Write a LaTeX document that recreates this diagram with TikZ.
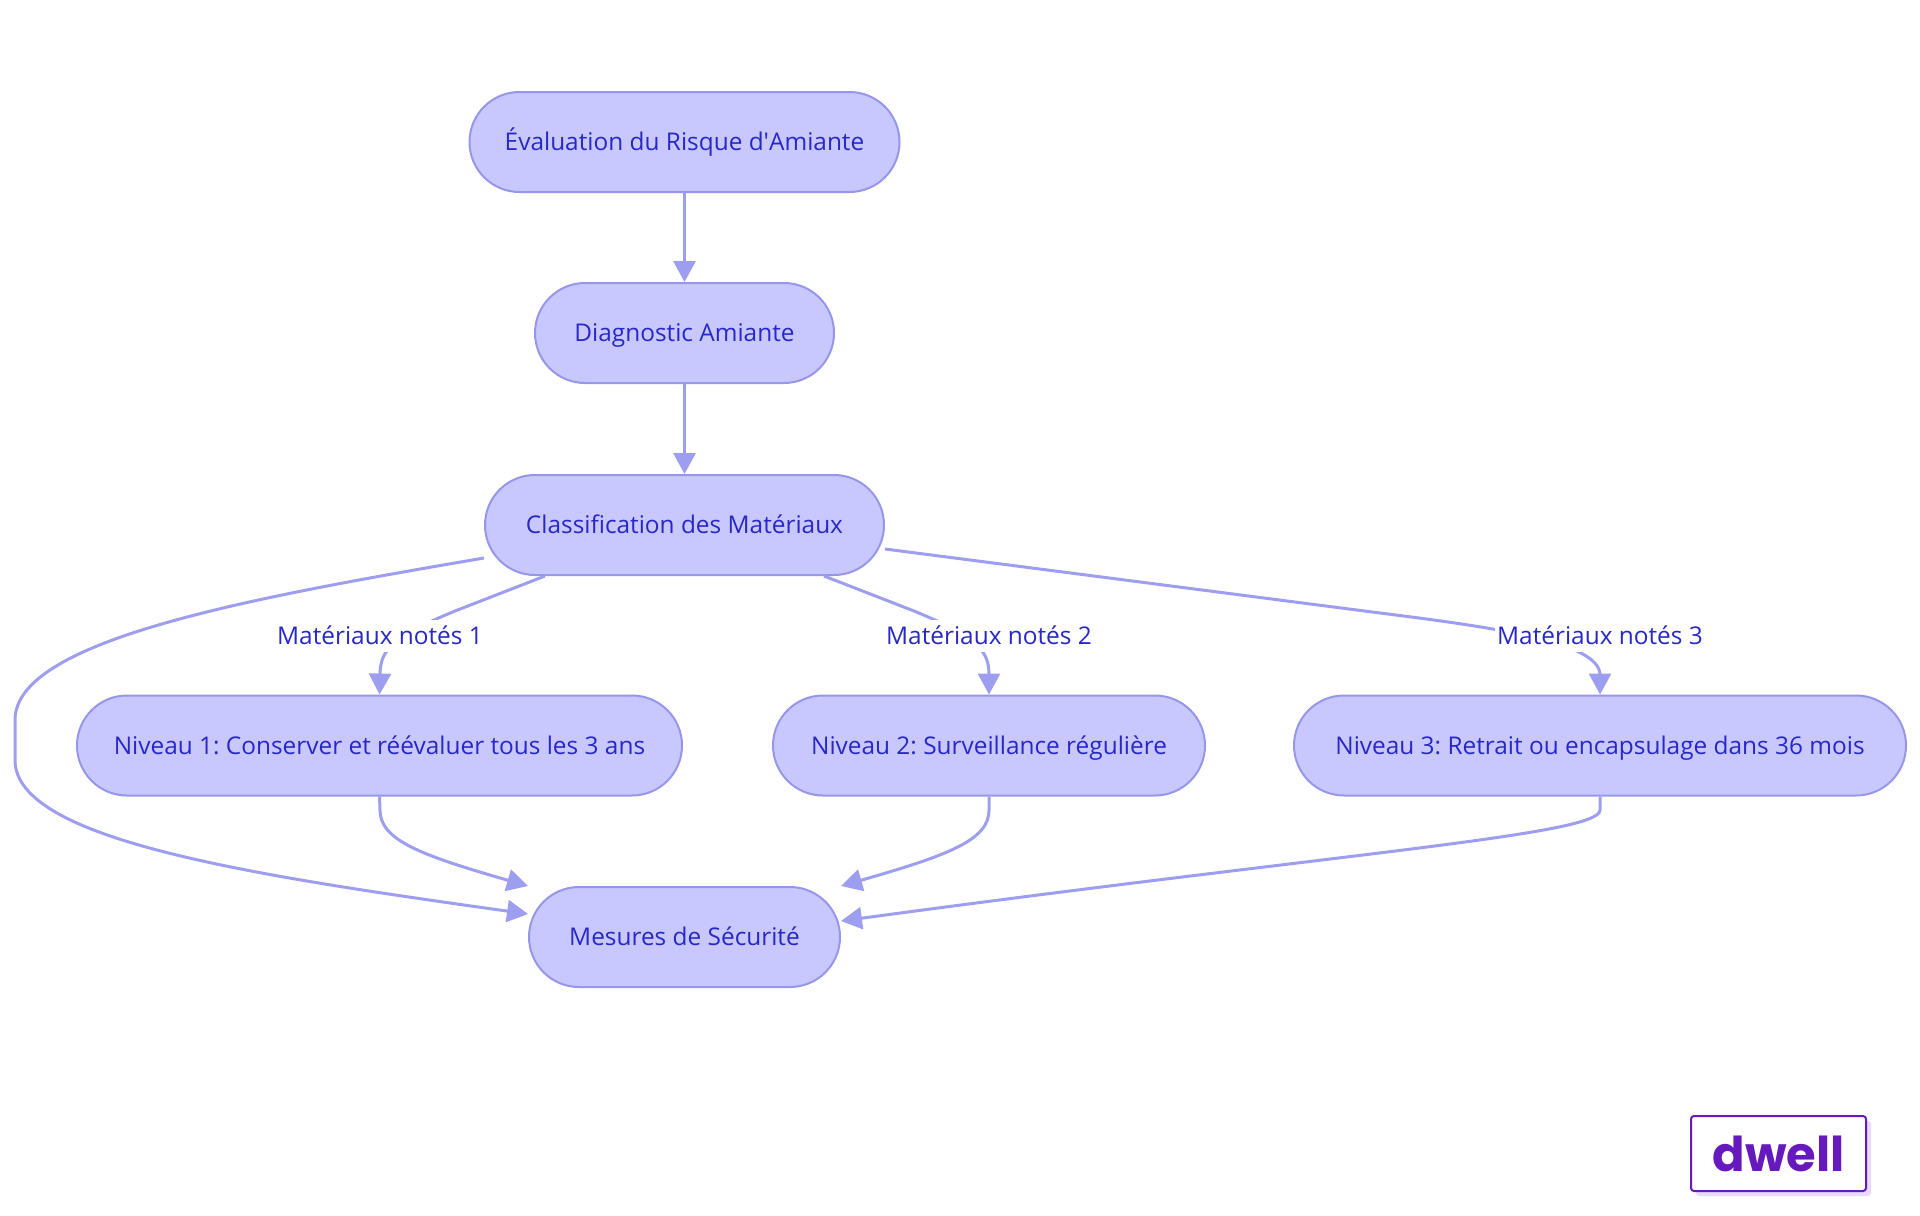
\documentclass[tikz,border=0pt]{standalone}
\usepackage{fontspec}
\setmainfont{Open Sans}
\newfontfamily\logofont{Poppins}
\usetikzlibrary{arrows.meta}
\definecolor{nfill}{RGB}{200,200,255}
\definecolor{nborder}{RGB}{150,150,235}
\definecolor{edgec}{RGB}{158,158,240}
\definecolor{txtc}{RGB}{40,40,200}
\definecolor{logoc}{RGB}{102,26,190}
\definecolor{shadowc}{RGB}{232,218,250}
\frenchspacing
\tikzset{
  stad/.style={draw=nborder, fill=nfill, line width=1pt, rounded corners=25pt,
    minimum height=50pt, inner sep=0pt, text=txtc, text height=11.5pt, text depth=2.6pt,
    font=\fontsize{12.2}{14}\selectfont},
  lbl/.style={fill=white, inner xsep=1pt, inner ysep=1pt, text=txtc, text height=11.5pt, text depth=2.6pt,
    font=\fontsize{12.2}{14}\selectfont},
  edge/.style={draw=edgec, line width=1.5pt, -{Triangle[length=10.5pt,width=11pt]}},
}
\begin{document}
\begin{tikzpicture}[x=0.5pt,y=-0.5pt]
\useasboundingbox (0,0) rectangle (1920,1215);
% nodes
\node[stad, minimum width=215pt] (A) at (684.5,142) {Évaluation du Risque d\textquotesingle Amiante};
\node[stad, minimum width=149.5pt] (B) at (684.5,333) {Diagnostic Amiante};
\node[stad, minimum width=199.5pt] (C) at (684.5,525) {Classification des Matériaux};
\node[stad, minimum width=302.5pt] (L1) at (379.5,745.5) {Niveau 1: Conserver et réévaluer tous les 3 ans};
\node[stad, minimum width=216pt] (L2) at (989,745.5) {Niveau 2: Surveillance régulière};
\node[stad, minimum width=306pt] (L3) at (1600,745.5) {Niveau 3: Retrait ou encapsulage dans 36 mois};
\node[stad, minimum width=155.5pt] (M) at (684.5,937) {Mesures de Sécurité};
% edges
\draw[edge] (A.south) -- (B.north);
\draw[edge] (B.south) -- (C.north);
\draw[edge] ([xshift=-69.75pt]C.south) -- (455,611) .. controls (392,637) and (380,650) .. (380,675) -- (L1.north);
\draw[edge] ([xshift=69.75pt]C.south) -- (914,611) .. controls (977,637) and (989,650) .. (989,675) -- (L2.north);
\draw[edge] ([yshift=-12pt]C.east) -- (1380,613) .. controls (1500,628) and (1600,643) .. (1600,675) -- (L3.north);
\draw[edge] ([yshift=-16.5pt]C.west) .. controls (250,598) and (15,640) .. (15,720) -- (15,760) .. controls (15,840) and (250,875) .. ([yshift=11.5pt]M.west);
\draw[edge] (L1.south) -- (380,810) .. controls (380,840) and (420,855) .. (M.north west);
\draw[edge] (L2.south) -- (989,810) .. controls (989,840) and (949,855) .. (M.north east);
\draw[edge] (L3.south) -- (1600,810) .. controls (1600,835) and (1350,852) .. ([yshift=8pt]M.east);
% labels
\node[lbl] (t1) at (380,636) {Matériaux notés 1};
\node[lbl] (t2) at (989,636) {Matériaux notés 2};
\node[lbl] (t3) at (1600,636) {Matériaux notés 3};
% logo
\node[fill=shadowc, minimum width=87.5pt, minimum height=37.5pt, inner sep=0pt, rounded corners=1.5pt] (logoshadow) at (1783.5,1158.5) {};
\node[draw=logoc, fill=white, line width=1pt, minimum width=87.5pt, minimum height=37.5pt, inner sep=0pt, rounded corners=1.5pt, text=logoc, font=\logofont\bfseries\fontsize{24}{26}\selectfont] (logo) at (1778.5,1153.5) {dwell};
\end{tikzpicture}
\end{document}
